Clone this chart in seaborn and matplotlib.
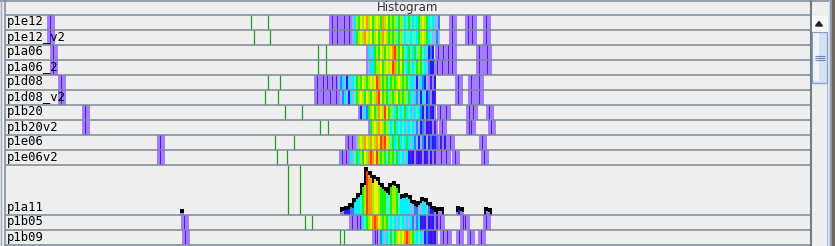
import numpy as np
import matplotlib
matplotlib.use("Agg")
import matplotlib.pyplot as plt
from matplotlib.colors import ListedColormap
from matplotlib.patches import Rectangle, Polygon
import seaborn as sns

# rows of the viewer, top to bottom (p1a11 is the expanded one)
strip_names = ["p1e12", "p1e12_v2", "p1a06", "p1a06_2", "p1d08", "p1d08_v2",
               "p1b20", "p1b20v2", "p1e06", "p1e06v2"]
bottom_names = ["p1b05", "p1b09"]

# dense part of each row: first bin position, then density level per 2-unit bin
core_start = [352, 352, 366, 366, 338, 338, 358, 368, 356, 350]
core_levels = [
    [5, 6, 9, 8, 10, 9, 10, 11, 9, 10, 8, 9, 10, 9, 8, 11, 9, 10, 8, 9, 8, 9, 7, 8, 9, 7, 6, 7, 8, 7, 6, 7, 6, 8, 9, 10, 9, 8, 6, 7, 6, 5, 5, 4],
    [5, 6, 8, 9, 10, 9, 11, 10, 9, 10, 8, 9, 10, 8, 9, 11, 10, 9, 8, 9, 8, 9, 7, 8, 9, 7, 6, 7, 7, 6, 7, 7, 6, 8, 9, 10, 9, 8, 6, 7, 5, 5, 4, 5],
    [1, 6, 5, 6, 8, 9, 8, 10, 9, 8, 10, 9, 10, 11, 12, 9, 8, 10, 8, 7, 6, 8, 7, 6, 8, 7, 9, 8, 7, 6, 5, 3, 4, 3],
    [1, 5, 6, 6, 8, 9, 9, 10, 8, 9, 10, 9, 10, 12, 11, 9, 8, 10, 8, 7, 6, 8, 7, 6, 7, 8, 9, 8, 7, 6, 5, 4, 3, 3],
    [5, 4, 6, 5, 3, 6, 5, 6, 7, 8, 9, 8, 10, 9, 8, 9, 10, 9, 10, 12, 11, 9, 8, 9, 8, 7, 8, 9, 8, 9, 10, 9, 8, 9, 8, 7, 6, 6, 5, 3, 5, 6, 4, 3, 5, 1, 2, 1, 3],
    [1, 5, 4, 6, 5, 3, 6, 5, 7, 8, 9, 10, 9, 8, 10, 9, 8, 10, 9, 11, 12, 10, 8, 9, 8, 7, 9, 8, 9, 10, 8, 9, 8, 9, 7, 8, 6, 5, 6, 4, 5, 3, 6, 5, 3, 4, 1, 3, 2],
    [1, 3, 5, 6, 4, 8, 9, 10, 8, 9, 11, 10, 9, 12, 10, 8, 9, 7, 6, 8, 7, 6, 7, 8, 6, 7, 6, 5, 6, 7, 6, 4, 3, 5, 3, 4, 2, 3, 1],
    [1, 8, 9, 10, 9, 11, 10, 9, 8, 9, 7, 6, 7, 8, 6, 7, 6, 7, 6, 5, 6, 7, 6, 5, 4, 5, 3, 4, 1, 3, 2, 3, 1, 2, 1],
    [5, 9, 10, 9, 11, 10, 9, 11, 10, 9, 11, 10, 12, 11, 12, 10, 9, 7, 8, 6, 7, 8, 6, 7, 6, 8, 6, 5, 6, 4, 5, 3, 5, 4, 3, 5, 2, 4, 3, 2, 4, 1, 2, 1, 3, 1],
    [6, 5, 7, 8, 6, 9, 8, 10, 9, 11, 12, 11, 10, 12, 9, 8, 9, 8, 7, 8, 9, 8, 7, 8, 6, 7, 6, 5, 6, 3, 2, 3, 1, 2, 3, 2, 1, 3, 2, 1, 3, 1, 2, 1],
]
# isolated single values (outliers) of each row
single_points = [
    [50, 332, 337, 344, 349, 452, 468, 472, 486],
    [50, 332, 337, 344, 349, 452, 468, 472, 486],
    [53, 438, 443, 448, 452, 479, 487],
    [53, 437, 442, 448, 452, 479, 487],
    [61, 317, 323, 327, 332, 336, 458, 471, 479],
    [61, 317, 323, 330, 336, 458, 471, 479],
    [85, 440, 446, 469, 473, 489],
    [85, 442, 469, 471, 491],
    [160, 348, 352, 450, 482],
    [160, 342, 346, 441, 446, 455, 484],
]

bottom_start = [362, 378]
bottom_levels = [
    [6, 7, 8, 9, 10, 11, 12, 11, 10, 9, 8, 9, 8, 7, 6, 7, 6, 5, 6, 7, 6, 5, 6, 5, 6, 4, 5, 4, 6, 3, 2, 3, 1, 3, 2, 3, 1, 2],
    [5, 4, 6, 5, 6, 7, 8, 7, 8, 9, 10, 9, 10, 11, 12, 11, 9, 8, 7, 6, 7, 6, 5, 3, 4, 2, 3, 2, 3, 1],
]
bottom_points = [
    [184, 352, 357, 360, 440, 463, 465, 486],
    [185, 375, 377, 443, 447, 459, 470, 481],
]

# expanded row p1a11: bar heights per 2-unit bin
p1a11_start = 340
p1a11_heights = [3, 4, 5, 5, 6, 8, 7, 13, 16, 18, 20, 28, 30, 44, 40, 37, 32, 36, 34, 30,
                 28, 26, 24, 22, 20, 28, 30, 29, 27, 22, 16, 17, 17, 18, 16, 12, 11, 9, 8, 10,
                 12, 14, 13, 10, 9, 6, 5, 3]
p1a11_extra_x = [180, 182, 438, 440, 456, 458, 460, 462, 486, 488]
p1a11_extra_h = [2, 2, 4, 4, 3, 5, 4, 3, 4, 3]

# two green marker lines per row (p1a11 is index 10)
marker_a = [250, 253, 317, 317, 267, 264, 284, 319, 274, 276, 287, 304, 339]
marker_b = [267, 269, 325, 325, 279, 277, 301, 327, 293, 286, 299, 311, 343]

level_colors = ["#a07eff", "#5a14f0", "#1e1eff", "#2f7fff", "#8ab8ff", "#00f0ff",
                "#3cffc0", "#18f018", "#9cf000", "#f0f000", "#ff9a00", "#ff3c00"]
BG = "#eeeeee"
SEP = "#7b8896"
GREEN = "#19a019"

W, H = 835, 246
X0, X1 = 5, 810
NCOL = X1 - X0


def build_row(start, levels, points):
    row = np.zeros(NCOL)
    for p in points:
        row[p - 3 - X0:p + 5 - X0] = np.maximum(row[p - 3 - X0:p + 5 - X0], 1)
    for k, lv in enumerate(levels):
        c = start + 2 * k - X0
        row[c:c + 2] = lv
    for p in points:
        row[p - X0] = 2
    return row


def px_axes(fig, x0, y0, x1, y1):
    return fig.add_axes([x0 / W, 1 - y1 / H, (x1 - x0) / W, (y1 - y0) / H])


def strip_panel(ax, mat, names, idx0):
    sns.heatmap(mat, mask=mat == 0, cmap=ListedColormap(level_colors), vmin=0.5, vmax=12.5,
                cbar=False, xticklabels=False, yticklabels=False, ax=ax, linewidths=0)
    ax.set_facecolor(BG)
    for i in range(len(names)):
        for m in (marker_a[idx0 + i], marker_b[idx0 + i]):
            ax.vlines(m - X0 + 0.5, i, i + 1, color=GREEN, lw=0.9)
    ax.set_xlim(0, NCOL)
    for s in ax.spines.values():
        s.set_visible(False)


fig = plt.figure(figsize=(W / 100, H / 100), dpi=100, facecolor=BG)

top = np.array([build_row(s, l, p) for s, l, p in zip(core_start, core_levels, single_points)])
ax_top = px_axes(fig, X0, 15, X1, 165)
strip_panel(ax_top, top, strip_names, 0)

bot = np.array([build_row(s, l, p) for s, l, p in zip(bottom_start, bottom_levels, bottom_points)])
ax_bot = px_axes(fig, X0, 215, X1, 245)
strip_panel(ax_bot, bot, bottom_names, 11)

# expanded histogram row
ax_mid = px_axes(fig, X0, 165, X1, 215)
ax_mid.set_facecolor(BG)
bx = [p1a11_start + 2 * k for k in range(len(p1a11_heights))] + p1a11_extra_x
bh = p1a11_heights + p1a11_extra_h
thr = [5, 7, 10, 13, 19, 23, 29, 33, 37, 41]
lv_idx = [0, 2, 3, 4, 5, 6, 7, 8, 9, 10, 11]
bcol = [level_colors[lv_idx[np.digitize(h, thr)]] for h in bh]
caps = {}
for x, h in zip(bx, bh):
    g = x - ((x - p1a11_start) % 4)
    caps[g] = max(caps.get(g, 0), h)
ax_mid.bar(list(caps.keys()), [v + 4 for v in caps.values()], width=4, align="edge",
           color="black", linewidth=0)
ax_mid.bar(bx, bh, width=2, align="edge", color=bcol, linewidth=0)
ax_mid.vlines([marker_a[10] + 0.5, marker_b[10] + 0.5], 0, 50, color=GREEN, lw=0.9)
ax_mid.set_xlim(X0, X1)
ax_mid.set_ylim(0, 50)
ax_mid.set_xticks([])
ax_mid.set_yticks([])
for s in ax_mid.spines.values():
    s.set_visible(False)

# overlay: frame, separators, labels, scrollbar
ov = px_axes(fig, 0, 0, W, H)
ov.set_xlim(0, W)
ov.set_ylim(H, 0)
ov.axis("off")
ov.patch.set_alpha(0)

ov.hlines([15, 30, 45, 60, 75, 90, 105, 120, 135, 150, 165, 215, 230, 245.3], X0, X1,
          color=SEP, lw=1.1)
ov.hlines(0.5, 0, 830, color=SEP, lw=1.1)
ov.vlines(0.8, 0, H, color="#9aa8b8", lw=1.0)
ov.vlines(4.5, 0, H, color=SEP, lw=1.1)
ov.vlines(810.5, 0, H, color="#6f7c8a", lw=1.5)
ov.text(408, 8, "Histogram", ha="center", va="center", fontsize=8.5, color="#333333",
        family="DejaVu Sans")

label_rows = strip_names + ["p1a11"] + bottom_names
label_base = [30, 45, 60, 75, 90, 105, 120, 135, 150, 165, 215, 230, 245]
for name, b in zip(label_rows, label_base):
    ov.text(7, b - 4.5, name, ha="left", va="baseline", fontsize=8.8, color="black",
            family="DejaVu Sans Mono")

# scrollbar
ov.add_patch(Rectangle((812, 16), 15, 15, facecolor="#f6f6f6", edgecolor="white", lw=0.8))
ov.add_patch(Polygon([[815.5, 26], [822.5, 26], [819, 21.5]], closed=True, color="#222222"))
ov.add_patch(Rectangle((812, 31.5), 15, 51, facecolor="#d6e2f2", edgecolor="#7f9fcf", lw=0.9))
ov.add_patch(Rectangle((813, 33), 6, 48, facecolor="#eef3fb", lw=0))
ov.hlines([55.5, 57.5, 59.5], 815, 825, color="#6a86b8", lw=0.8)
ov.vlines(826.5, 83, H, color="#a9c0dc", lw=0.9)
ov.vlines(828.5, 0, H, color="#c8d6e6", lw=0.9)
ov.add_patch(Rectangle((830, 0), 5, H, facecolor="#8c96a2", lw=0))
ov.add_patch(Rectangle((832, 0), 3, H, facecolor="#6d665f", lw=0))

fig.savefig("out.png", dpi=100, facecolor=BG)
